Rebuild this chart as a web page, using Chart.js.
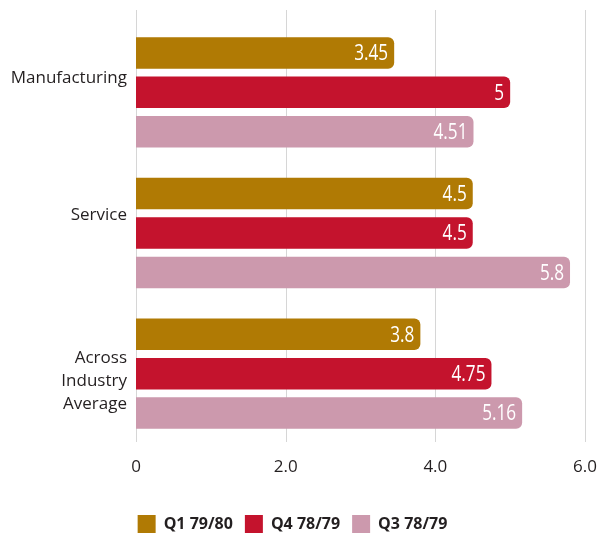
<!DOCTYPE html>
<html>
<head>
<meta charset="utf-8">
<script src="https://cdn.jsdelivr.net/npm/chart.js@4"></script>
<style>
  html, body { margin: 0; padding: 0; background: #ffffff; }
  #wrap { width: 607px; height: 534px; }
</style>
</head>
<body>
<div id="wrap"><canvas id="c"></canvas></div>
<script>
// Categories (y axis) and the three quarterly series
const categories = ['Manufacturing', 'Service', ['Across', 'Industry', 'Average']];
const seriesNames = ['Q1 79/80', 'Q4 78/79', 'Q3 78/79'];
const q1_7980 = [3.45, 4.5, 3.8];
const q4_7879 = [5, 4.5, 4.75];
const q3_7879 = [4.51, 5.8, 5.16];
const xTickLabels = ['0', '2.0', '4.0', '6.0'];

const seriesColors = ['#B07A04', '#C4132D', '#CC99AD'];
const textColor = '#231F20';
const baseFont = '"Open Sans", "Noto Sans", sans-serif';

// vertical nudge of each category label relative to its bar group
const labelShift = [-14, -18, 7];

// light vertical grid, drawn a little above the plot area
const gridPlugin = {
  id: 'vgrid',
  beforeDatasetsDraw(chart) {
    const { ctx, chartArea, scales } = chart;
    const xs = scales.x;
    ctx.save();
    ctx.strokeStyle = '#d6d6d6';
    ctx.lineWidth = 1;
    xs.ticks.forEach(t => {
      const px = Math.round(xs.getPixelForValue(t.value)) + 0.5;
      ctx.beginPath();
      ctx.moveTo(px, chartArea.top - 12);
      ctx.lineTo(px, chartArea.bottom - 2);
      ctx.stroke();
    });
    ctx.restore();
  }
};

// category names to the left of the bar groups
const categoryLabelPlugin = {
  id: 'catLabels',
  afterDraw(chart) {
    const { ctx, chartArea, scales } = chart;
    const ys = scales.y;
    const lineH = 23;
    ctx.save();
    ctx.fillStyle = textColor;
    ctx.font = '17px ' + baseFont;
    ctx.textAlign = 'right';
    ctx.textBaseline = 'middle';
    categories.forEach((lab, i) => {
      const lines = Array.isArray(lab) ? lab : [lab];
      const cy = ys.getPixelForValue(i) + labelShift[i];
      const y0 = cy - (lines.length - 1) * lineH / 2;
      lines.forEach((ln, k) => ctx.fillText(ln, chartArea.left - 9, y0 + k * lineH));
    });
    ctx.restore();
  }
};

// value written inside the end of every bar, in a condensed face
const valueLabelPlugin = {
  id: 'valueLabels',
  afterDatasetsDraw(chart) {
    const { ctx } = chart;
    const squeeze = 0.78;
    ctx.save();
    ctx.fillStyle = '#ffffff';
    ctx.font = '22px ' + baseFont;
    ctx.textAlign = 'right';
    ctx.textBaseline = 'middle';
    chart.data.datasets.forEach((ds, i) => {
      chart.getDatasetMeta(i).data.forEach((bar, j) => {
        ctx.save();
        ctx.translate(bar.x - 6, bar.y + 1);
        ctx.scale(squeeze, 1);
        ctx.fillText(String(ds.data[j]), 0, 0);
        ctx.restore();
      });
    });
    ctx.restore();
  }
};

const seriesData = [q1_7980, q4_7879, q3_7879];

new Chart(document.getElementById('c'), {
  type: 'bar',
  data: {
    labels: categories,
    datasets: seriesData.map((d, i) => ({
      label: seriesNames[i],
      data: d,
      backgroundColor: seriesColors[i],
      borderWidth: 0,
      borderRadius: 6,
      borderSkipped: 'start',
      barPercentage: 0.8,
      categoryPercentage: 0.84
    }))
  },
  options: {
    indexAxis: 'y',
    responsive: true,
    maintainAspectRatio: false,
    animation: false,
    layout: { padding: { top: 22, right: 22, bottom: -9, left: 0 } },
    scales: {
      x: {
        min: 0,
        max: 6,
        ticks: {
          stepSize: 2,
          padding: 5,
          color: textColor,
          font: { family: baseFont, size: 17 },
          callback: (v, i) => xTickLabels[i]
        },
        grid: { display: false },
        border: { display: false },
        afterFit: s => { s.height = 59; }
      },
      y: {
        ticks: { display: false },
        grid: { display: false },
        border: { display: false },
        afterFit: s => { s.width = 136; }
      }
    },
    plugins: {
      tooltip: { enabled: false },
      legend: {
        position: 'bottom',
        labels: {
          boxWidth: 18,
          boxHeight: 18,
          padding: 12,
          color: textColor,
          font: { family: baseFont, size: 16, weight: 'bold' }
        }
      }
    }
  },
  plugins: [gridPlugin, categoryLabelPlugin, valueLabelPlugin]
});
</script>
</body>
</html>
